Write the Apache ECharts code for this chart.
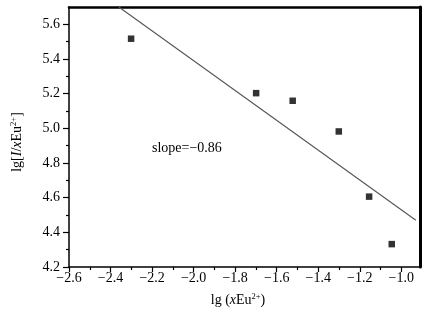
<!DOCTYPE html>
<html>
<head>
<meta charset="utf-8">
<script src="https://cdn.jsdelivr.net/npm/echarts@6/dist/echarts.min.js"></script>
<style>
  html, body { margin: 0; padding: 0; background: #fff; }
  #chart { width: 431px; height: 322px; }
</style>
</head>
<body>
<div id="chart"></div>
<script>
// Measured points: lg of Eu2+ fraction vs lg(I/x)
const lgX = [-2.301, -1.699, -1.523, -1.301, -1.155, -1.046];
const lgIx = [5.517, 5.203, 5.159, 4.982, 4.606, 4.332];

// Linear fit endpoints (slope = -0.86)
const fitX = [-2.36, -0.93];
const fitY = [5.70, 4.47];

// Axis ticks
const xTicks = [-2.6, -2.4, -2.2, -2.0, -1.8, -1.6, -1.4, -1.2, -1.0];
const xMinorTicks = [-2.5, -2.3, -2.1, -1.9, -1.7, -1.5, -1.3, -1.1];
const yTicks = [4.2, 4.4, 4.6, 4.8, 5.0, 5.2, 5.4, 5.6];
const yMinorTicks = [4.3, 4.5, 4.7, 4.9, 5.1, 5.3, 5.5];
const slopeText = 'slope=\u22120.86';

const FONT = '"Liberation Serif", "Times New Roman", serif';
const X_MIN = -2.6, X_MAX = -0.91, Y_MIN = 4.2, Y_MAX = 5.7;

const fmt = v => v.toFixed(1).replace('-', '\u2212');

const hidden = { show: false };

const chart = echarts.init(document.getElementById('chart'), null, { renderer: 'canvas' });

chart.setOption({
  animation: false,
  backgroundColor: '#fff',
  grid: { left: 69, top: 7, right: 11, bottom: 55, containLabel: false },
  xAxis: [
    {
      type: 'value', position: 'bottom', min: X_MIN, max: X_MAX,
      axisLine: { show: true, onZero: false, lineStyle: { color: '#000', width: 1.5 } },
      axisTick: { show: true, inside: false, length: 5, customValues: xTicks, lineStyle: { color: '#000', width: 1.2 } },
      axisLabel: { show: true, customValues: xTicks, margin: 4, formatter: fmt,
        fontFamily: FONT, fontSize: 14, color: '#000' },
      splitLine: hidden
    },
    {
      type: 'value', position: 'bottom', min: X_MIN, max: X_MAX,
      axisLine: { show: false, onZero: false },
      axisTick: { show: true, inside: false, length: 3, customValues: xMinorTicks, lineStyle: { color: '#000', width: 1.2 } },
      axisLabel: hidden, splitLine: hidden
    },
    {
      type: 'value', position: 'top', min: X_MIN, max: X_MAX,
      axisLine: { show: true, onZero: false, lineStyle: { color: '#000', width: 2.5 } },
      axisTick: hidden, axisLabel: hidden, splitLine: hidden
    }
  ],
  yAxis: [
    {
      type: 'value', position: 'left', min: Y_MIN, max: Y_MAX,
      axisLine: { show: true, onZero: false, lineStyle: { color: '#000', width: 1.5 } },
      axisTick: { show: true, inside: false, length: 6, customValues: yTicks, lineStyle: { color: '#000', width: 1.2 } },
      axisLabel: { show: true, customValues: yTicks, margin: 9, formatter: fmt,
        fontFamily: FONT, fontSize: 14, color: '#000' },
      splitLine: hidden
    },
    {
      type: 'value', position: 'left', min: Y_MIN, max: Y_MAX,
      axisLine: { show: false, onZero: false },
      axisTick: { show: true, inside: false, length: 3, customValues: yMinorTicks, lineStyle: { color: '#000', width: 1.2 } },
      axisLabel: hidden, splitLine: hidden
    },
    {
      type: 'value', position: 'right', min: Y_MIN, max: Y_MAX,
      axisLine: { show: true, onZero: false, lineStyle: { color: '#000', width: 3 } },
      axisTick: hidden, axisLabel: hidden, splitLine: hidden
    }
  ],
  series: [
    {
      type: 'line',
      xAxisIndex: 0, yAxisIndex: 0,
      data: fitX.map((x, i) => [x, fitY[i]]),
      showSymbol: false, symbol: 'none', clip: true,
      lineStyle: { color: '#555', width: 1.1 },
      silent: true
    },
    {
      type: 'scatter',
      xAxisIndex: 0, yAxisIndex: 0,
      data: lgX.map((x, i) => [x, lgIx[i]]),
      symbol: 'rect', symbolSize: 6.5,
      itemStyle: { color: '#000' }
    }
  ],
  graphic: [
    {
      type: 'text', left: 152, top: 141,
      style: { text: slopeText, font: '14px ' + FONT, fill: '#000' }
    },
    {
      type: 'text', x: 238, y: 300,
      style: {
        text: '{n|lg (}{i|x}{n|Eu}{s|2+}{n|)}',
        align: 'center', verticalAlign: 'middle',
        rich: {
          n: { fontFamily: FONT, fontSize: 14, color: '#000' },
          i: { fontFamily: FONT, fontSize: 14, fontStyle: 'italic', color: '#000' },
          s: { fontFamily: FONT, fontSize: 8.5, color: '#000', padding: [0, 0, 7, 0] }
        }
      }
    },
    {
      type: 'text', x: 17, y: 142, rotation: Math.PI / 2,
      style: {
        text: '{n|lg[}{i|I}{n|/}{i|x}{n|Eu}{s|2+}{n|]}',
        align: 'center', verticalAlign: 'middle',
        rich: {
          n: { fontFamily: FONT, fontSize: 14, color: '#000' },
          i: { fontFamily: FONT, fontSize: 14, fontStyle: 'italic', color: '#000' },
          s: { fontFamily: FONT, fontSize: 8.5, color: '#000', padding: [0, 0, 7, 0] }
        }
      }
    }
  ]
});
</script>
</body>
</html>
